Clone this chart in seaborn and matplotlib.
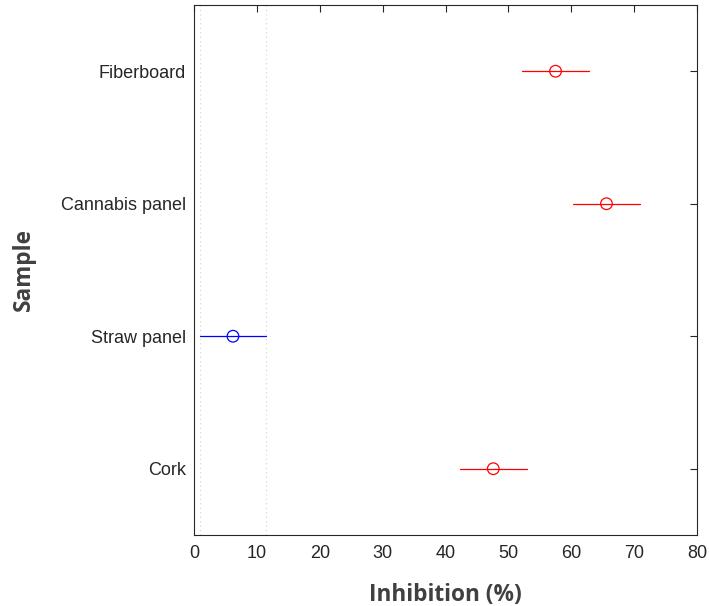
import numpy as np
import pandas as pd
import matplotlib
matplotlib.use("Agg")
import matplotlib.pyplot as plt
import seaborn as sns

# data (bottom to top, as drawn)
samples = ["Cork", "Straw panel", "Cannabis panel", "Fiberboard"]
means = [47.6, 6.2, 65.6, 57.5]
half_width = [5.3, 5.3, 5.3, 5.3]
selected = "Straw panel"

df = pd.DataFrame({"sample": samples, "mean": means, "hw": half_width})
df["pos"] = np.arange(1, len(samples) + 1)
df["group"] = np.where(df["sample"] == selected, "sel", "other")
palette = {"sel": "#0000ff", "other": "#ff0000"}

sns.set_style("white")
plt.rcParams["font.family"] = ["Liberation Sans", "DejaVu Sans"]

fig = plt.figure(figsize=(7.09, 6.06), dpi=100)
ax = fig.add_axes([0.2736, 0.1172, 0.7095, 0.8746])

# comparison interval lines
for _, r in df.iterrows():
    ax.plot([r["mean"] - r["hw"], r["mean"] + r["hw"]], [r["pos"], r["pos"]],
            color=palette[r["group"]], lw=0.9, zorder=2)

sns.scatterplot(data=df, x="mean", y="pos", hue="group", palette=palette,
                marker="o", s=70, legend=False, ax=ax, zorder=3)
for coll in ax.collections:
    fc = coll.get_facecolors()
    coll.set_edgecolors(fc)
    coll.set_facecolor("none")
    coll.set_linewidth(0.9)

# dotted lines marking the selected group's interval
sel = df[df["sample"] == selected].iloc[0]
for xv in [sel["mean"] - sel["hw"], sel["mean"] + sel["hw"]]:
    ax.axvline(xv, color="#d0d0d0", ls=(0, (1, 3)), lw=0.8, zorder=1)

ax.set_xlim(0, 80)
ax.set_ylim(0.5, len(samples) + 0.5)
ax.set_xticks(np.arange(0, 81, 10))
ax.set_yticks(df["pos"])
ax.set_yticklabels(samples)
ax.tick_params(direction="in", top=True, right=True, length=5, width=0.8,
               labelsize=13, colors="#262626")
ax.tick_params(axis="x", pad=7)
ax.tick_params(axis="y", pad=6)
for sp in ax.spines.values():
    sp.set_color("#262626")
    sp.set_linewidth(0.8)

lab = dict(fontsize=16.3, fontweight="bold", color="#404040", family=["Open Sans", "DejaVu Sans"])
ax.set_xlabel("Inhibition (%)", labelpad=15, **lab)
ax.set_ylabel("Sample", labelpad=18, **lab)

fig.savefig("out.png", dpi=100)
